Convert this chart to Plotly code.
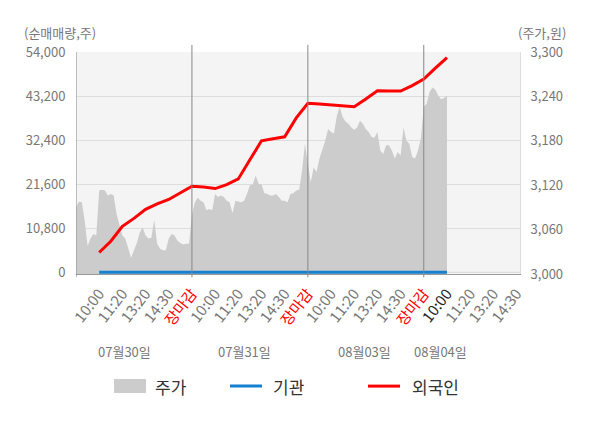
import plotly.graph_objects as go

# x axis: each trading day is 100 slots wide, tick labels every 20 slots
tick_vals = [20, 40, 60, 80, 100, 120, 140, 160, 180, 200,
             220, 240, 260, 280, 300, 320, 340, 360, 380]
tick_labels = ["10:00", "11:20", "13:20", "14:30", "장마감",
               "10:00", "11:20", "13:20", "14:30", "장마감",
               "10:00", "11:20", "13:20", "14:30", "장마감",
               "10:00", "11:20", "13:20", "14:30"]
day_names = ["07월30일", "07월31일", "08월03일", "08월04일"]
day_label_slots = [42, 145, 249, 314]

# 주가 (right axis, won) - intraday samples, one every 2.5 slots
price_day1 = [3090, 3098, 3097, 3072, 3038, 3048, 3054, 3052, 3113, 3114,
              3113, 3106, 3108, 3106, 3081, 3068, 3052, 3048, 3036, 3022,
              3032, 3042, 3056, 3063, 3052, 3048, 3049, 3073, 3041, 3034,
              3032, 3032, 3048, 3054, 3052, 3045, 3042, 3040, 3041, 3041]
price_day2 = [3079, 3097, 3103, 3099, 3097, 3086, 3088, 3086, 3108, 3104,
              3106, 3104, 3099, 3097, 3082, 3099, 3098, 3097, 3099, 3108,
              3120, 3121, 3133, 3122, 3121, 3109, 3108, 3106, 3106, 3108,
              3104, 3099, 3099, 3097, 3108, 3109, 3113, 3114, 3140, 3176]
price_day3 = [3150, 3124, 3144, 3138, 3156, 3168, 3180, 3196, 3192, 3190,
              3214, 3226, 3212, 3206, 3203, 3198, 3195, 3198, 3207, 3203,
              3196, 3192, 3185, 3184, 3192, 3167, 3162, 3174, 3174, 3167,
              3156, 3165, 3160, 3198, 3180, 3176, 3158, 3156, 3167, 3183]
price_day4 = [3226, 3230, 3246, 3252, 3249, 3241, 3236, 3238, 3241]
price_step = 2.5

# 외국인 / 기관 cumulative net buying (left axis, shares)
flow_slots = [20, 30, 40, 50, 60, 70, 80, 90, 100, 110, 120, 130, 140, 150,
              160, 170, 180, 190, 200, 210, 220, 230, 240, 250, 260, 270,
              280, 290, 300, 310, 320]
foreign_net = [4870, 7630, 11280, 13230, 15430, 16770, 17860, 19450, 21100,
               20900, 20540, 21520, 22900, 27600, 32240, 32730, 33220, 37850,
               41430, 41260, 41090, 40890, 40600, 42480, 44500, 44470, 44430,
               45770, 47350, 50030, 52640]
inst_net = [0] * len(flow_slots)

vol_ticks = [0, 10800, 21600, 32400, 43200, 54000]
price_ticks = [3000, 3060, 3120, 3180, 3240, 3300]

price_days = [price_day1, price_day2, price_day3, price_day4]
price_x, price_y = [], []
for d, day in enumerate(price_days):
    for i, p in enumerate(day):
        price_x.append(d * 100 + i * price_step)
        price_y.append(p)

FONT = "Noto Sans CJK KR"
GRAY_TXT = "#777777"

fig = go.Figure()

fig.add_trace(go.Scatter(
    x=price_x, y=price_y, name="주가", yaxis="y",
    mode="lines", line=dict(width=0, color="#cccccc"),
    fill="tozeroy", fillcolor="#cccccc",
    showlegend=False, hoverinfo="skip"
))
fig.add_trace(go.Scatter(
    x=flow_slots, y=inst_net, name="기관", yaxis="y2",
    mode="lines", line=dict(width=3, color="#1580d0"),
    showlegend=False, hoverinfo="skip"
))
fig.add_trace(go.Scatter(
    x=flow_slots, y=foreign_net, name="외국인", yaxis="y2",
    mode="lines", line=dict(width=3, color="#ff0000"),
    showlegend=False, hoverinfo="skip"
))

ticktext = []
for i, t in enumerate(tick_labels):
    if t == "장마감":
        ticktext.append('<span style="color:#ff0000">%s</span>' % t)
    elif i == 15:
        ticktext.append('<span style="color:#222222">%s</span>' % t)
    else:
        ticktext.append(t)

# day separators + left axis line
shapes = []
for s in [100, 200, 300]:
    shapes.append(dict(type="line", xref="x", yref="paper", x0=s, x1=s,
                       y0=-0.015, y1=1.032, layer="above",
                       line=dict(color="#888888", width=1)))
shapes.append(dict(type="line", xref="x", yref="paper", x0=0, x1=0,
                   y0=-0.015, y1=1, layer="above",
                   line=dict(color="#888888", width=1)))
# thin grey line just above the baseline
shapes.append(dict(type="line", xref="paper", yref="paper", x0=0, x1=1,
                   y0=0.007, y1=0.007, layer="below",
                   line=dict(color="#999999", width=1)))

# manual legend
shapes.append(dict(type="rect", xref="paper", yref="paper",
                   x0=0.0856, x1=0.1577, y0=-0.536, y1=-0.473,
                   fillcolor="#cccccc", line=dict(width=0)))
shapes.append(dict(type="line", xref="paper", yref="paper",
                   x0=0.3468, x1=0.4189, y0=-0.505, y1=-0.505,
                   line=dict(color="#1580d0", width=3)))
shapes.append(dict(type="line", xref="paper", yref="paper",
                   x0=0.6577, x1=0.7297, y0=-0.505, y1=-0.505,
                   line=dict(color="#ff0000", width=3)))

annotations = []
for name, s in zip(day_names, day_label_slots):
    annotations.append(dict(x=s, y=-0.40, xref="x", yref="paper",
                            text=name, showarrow=False,
                            font=dict(size=13, color=GRAY_TXT, family=FONT)))
for txt, x in [("주가", 0.1734), ("기관", 0.4392), ("외국인", 0.7523)]:
    annotations.append(dict(x=x, y=-0.505, xref="paper", yref="paper",
                            xanchor="left", yanchor="middle", text=txt,
                            showarrow=False,
                            font=dict(size=17, color="#333333", family=FONT)))
annotations.append(dict(x=-0.122, y=1.086, xref="paper", yref="paper",
                        xanchor="left", yanchor="middle", text="(순매매량,주)",
                        showarrow=False,
                        font=dict(size=13, color=GRAY_TXT, family=FONT)))
annotations.append(dict(x=1.108, y=1.086, xref="paper", yref="paper",
                        xanchor="right", yanchor="middle", text="(주가,원)",
                        showarrow=False,
                        font=dict(size=13, color=GRAY_TXT, family=FONT)))

# the page body adds an 8px offset, so the figure is 8px smaller each way
fig.update_layout(
    width=592, height=420,
    margin=dict(l=68, r=80, t=44, b=154),
    paper_bgcolor="white",
    plot_bgcolor="#f4f4f4",
    font=dict(family=FONT, color=GRAY_TXT),
    showlegend=False,
    xaxis=dict(range=[0, 383], tickmode="array", tickvals=tick_vals,
               ticktext=ticktext, tickangle=-52, showgrid=False,
               zeroline=False, showline=True, linecolor="#999999",
               linewidth=1, ticks="outside", ticklen=4,
               tickcolor="rgba(0,0,0,0)", automargin=False,
               tickfont=dict(size=15, color=GRAY_TXT, family=FONT)),
    yaxis=dict(range=[3000, 3300], side="right", tickvals=price_ticks,
               ticktext=["{:,}".format(v) for v in price_ticks],
               showgrid=False, zeroline=False, showline=True,
               linecolor="#dddddd", ticks="outside", ticklen=7,
               tickcolor="rgba(0,0,0,0)", automargin=False,
               tickfont=dict(size=13, color=GRAY_TXT, family=FONT)),
    yaxis2=dict(range=[-400, 54000], side="left", overlaying="y",
                tickvals=vol_ticks,
                ticktext=["{:,}".format(v) for v in vol_ticks],
                showgrid=True, gridcolor="#dddddd", gridwidth=1,
                zeroline=False, showline=False, ticks="outside", ticklen=7,
                tickcolor="rgba(0,0,0,0)", automargin=False,
                tickfont=dict(size=13, color=GRAY_TXT, family=FONT)),
    shapes=shapes,
    annotations=annotations,
)

fig.write_html("out.html")
